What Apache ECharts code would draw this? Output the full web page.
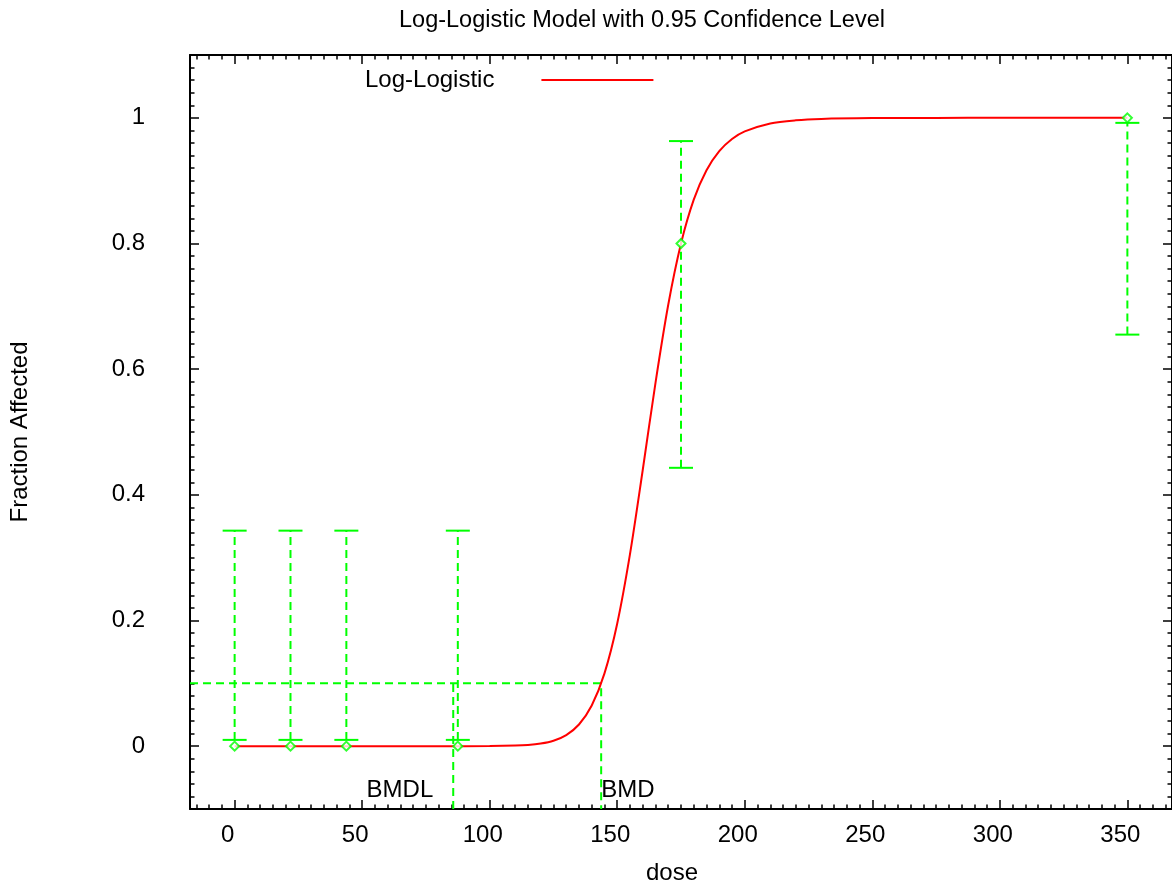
<!DOCTYPE html>
<html>
<head>
<meta charset="utf-8">
<title>Log-Logistic Model</title>
<script src="https://cdn.jsdelivr.net/npm/echarts@6/dist/echarts.min.js"></script>
<style>
  html, body { margin: 0; padding: 0; background: #fff; }
  #chart { width: 1172px; height: 890px; }
</style>
</head>
<body>
<div id="chart"></div>
<script>
// observed data (dose, fraction affected, 95% CI)
const doses = [0, 21.9, 43.8, 87.5, 175, 350];
const fracs = [0, 0, 0, 0, 0.8, 1];
const ciLow = [0.01, 0.01, 0.01, 0.01, 0.443, 0.655];
const ciHigh = [0.343, 0.343, 0.343, 0.343, 0.963, 0.992];

// fitted model curve
const curveDose = [0, 20, 40, 60, 80, 100, 110, 115, 120, 125, 130, 135, 140, 145, 150, 155, 160, 165,
  170, 175, 180, 185, 190, 195, 200, 210, 220, 230, 250, 275, 300, 350];
const curveFrac = [0, 0, 0, 0, 0, 0.0002, 0.0009, 0.0019, 0.0042, 0.0087, 0.0177, 0.0345, 0.0647, 0.1158,
  0.1952, 0.3055, 0.4395, 0.5783, 0.7025, 0.8, 0.8698, 0.9166, 0.9469, 0.9662, 0.9784, 0.991, 0.9961,
  0.9983, 0.9996, 0.9999, 1, 1];

const bmr = 0.1;
const bmd = 143.7;
const bmdl = 85.7;

const xTicks = [0, 50, 100, 150, 200, 250, 300, 350];
const yTicks = [0, 0.2, 0.4, 0.6, 0.8, 1];
const xMin = -17.5, xMax = 367.5;
const yMin = -0.1, yMax = 1.1;

const xMinor = [];
for (let v = -15; v <= 365; v += 5) xMinor.push(v);
const yMinor = [];
for (let i = -5; i <= 55; i++) yMinor.push(Math.round(i * 2) / 100);

const font = "'Liberation Sans', Arial, sans-serif";
const green = '#00ff00';

const chart = echarts.init(document.getElementById('chart'));

function axisPair(isX, pos, major, minor, withLabels) {
  const base = {
    type: 'value',
    position: pos,
    min: isX ? xMin : yMin,
    max: isX ? xMax : yMax,
    splitLine: { show: false }
  };
  const main = Object.assign({}, base, {
    axisLine: { show: true, onZero: false, lineStyle: { color: '#000', width: 2 } },
    axisTick: { show: true, inside: true, length: 9, customValues: major, lineStyle: { color: '#000', width: 1.5 } },
    axisLabel: withLabels ? {
      show: true,
      customValues: major,
      color: '#000',
      fontSize: 24,
      fontFamily: font,
      margin: isX ? 14 : 45,
      padding: isX ? [0, 14, 0, 0] : 0
    } : { show: false }
  });
  const sub = Object.assign({}, base, {
    axisLine: { show: false, onZero: false },
    axisTick: { show: true, inside: true, length: 4.5, customValues: minor, lineStyle: { color: '#000', width: 1.5 } },
    axisLabel: { show: false }
  });
  return [main, sub];
}

const xAxes = axisPair(true, 'bottom', xTicks, xMinor, true).concat(axisPair(true, 'top', xTicks, xMinor, false));
const yAxes = axisPair(false, 'left', yTicks, yMinor, true).concat(axisPair(false, 'right', yTicks, yMinor, false));

Object.assign(xAxes[0], {
  name: 'dose',
  nameLocation: 'middle',
  nameGap: 52,
  nameTextStyle: { color: '#000', fontSize: 24, fontFamily: font, padding: [0, 18, 0, 0] }
});
Object.assign(yAxes[0], {
  name: 'Fraction Affected',
  nameLocation: 'middle',
  nameRotate: 90,
  nameGap: 158,
  nameTextStyle: { color: '#000', fontSize: 24, fontFamily: font, padding: [22, 0, 0, 0] }
});

const labelStyle = { show: true, color: '#000', fontSize: 24, fontFamily: font };

const option = {
  animation: false,
  backgroundColor: '#fff',
  title: {
    text: 'Log-Logistic Model with 0.95 Confidence Level',
    left: 394,
    top: 4,
    textStyle: { color: '#000', fontSize: 23.5, fontWeight: 'normal', fontFamily: font }
  },
  legend: {
    data: ['Log-Logistic'],
    left: 360,
    top: 63,
    align: 'right',
    icon: 'rect',
    itemWidth: 112,
    itemHeight: 2,
    textStyle: { color: '#000', fontSize: 24, fontFamily: font, padding: [0, 42, 0, 0] }
  },
  grid: { left: 183, right: 0, top: 55, bottom: 81, containLabel: false },
  xAxis: xAxes,
  yAxis: yAxes,
  series: [
    {
      name: 'BMD lines',
      type: 'line',
      symbol: 'none',
      silent: true,
      lineStyle: { color: green, width: 2, type: [8, 5] },
      data: [[xMin, bmr], [bmd, bmr], [bmd, yMin]],
      z: 2
    },
    {
      name: 'BMDL line',
      type: 'line',
      symbol: 'none',
      silent: true,
      lineStyle: { color: green, width: 2, type: [8, 5] },
      data: [[bmdl, yMin], [bmdl, bmr]],
      z: 2
    },
    {
      name: 'CI',
      type: 'custom',
      silent: true,
      data: doses.map((d, i) => [d, ciLow[i], ciHigh[i]]),
      renderItem: function (params, api) {
        const lo = api.coord([api.value(0), api.value(1)]);
        const hi = api.coord([api.value(0), api.value(2)]);
        const half = 12;
        const solid = { stroke: green, lineWidth: 2 };
        return {
          type: 'group',
          children: [
            { type: 'line', shape: { x1: lo[0], y1: lo[1], x2: hi[0], y2: hi[1] },
              style: { stroke: green, lineWidth: 2, lineDash: [8, 5] } },
            { type: 'line', shape: { x1: lo[0] - half, y1: lo[1], x2: lo[0] + half, y2: lo[1] }, style: solid },
            { type: 'line', shape: { x1: hi[0] - half, y1: hi[1], x2: hi[0] + half, y2: hi[1] }, style: solid }
          ]
        };
      },
      z: 3
    },
    {
      name: 'Log-Logistic',
      type: 'line',
      symbol: 'none',
      smooth: 0.3,
      lineStyle: { color: '#ff0000', width: 2 },
      itemStyle: { color: '#ff0000' },
      data: curveDose.map((d, i) => [d, curveFrac[i]]),
      z: 4
    },
    {
      name: 'Observed',
      type: 'scatter',
      symbol: 'diamond',
      symbolSize: 9,
      itemStyle: { color: '#fff', borderColor: green, borderWidth: 2 },
      data: doses.map((d, i) => [d, fracs[i]]),
      z: 5
    },
    {
      name: 'BMD labels',
      type: 'scatter',
      symbolSize: 0,
      silent: true,
      data: [
        { value: [bmdl, -0.07], label: Object.assign({ formatter: 'BMDL', position: 'left', distance: 20 }, labelStyle) },
        { value: [bmd, -0.07], label: Object.assign({ formatter: 'BMD', position: 'right', distance: 0 }, labelStyle) }
      ],
      itemStyle: { opacity: 1 },
      emphasis: { disabled: true },
      z: 6
    }
  ]
};

chart.setOption(option);
</script>
</body>
</html>
